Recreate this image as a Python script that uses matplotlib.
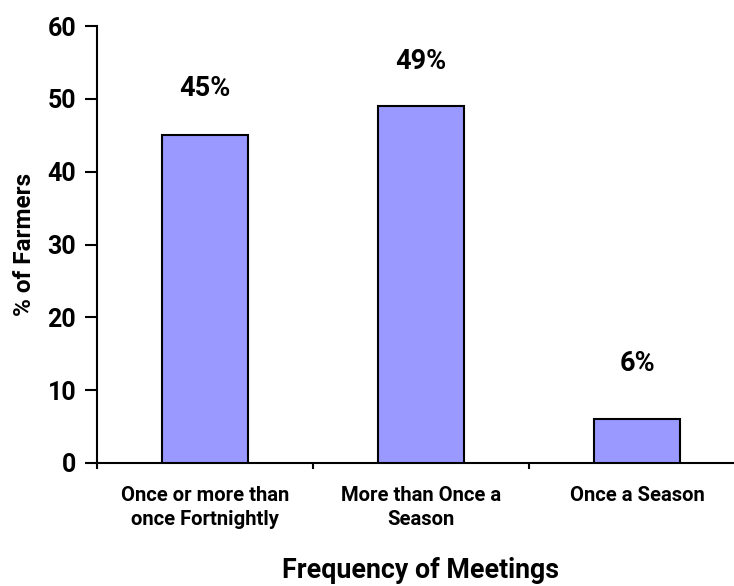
import numpy as np
import matplotlib
matplotlib.use("Agg")
import matplotlib.pyplot as plt

categories = ["Once or more than\nonce Fortnightly", "More than Once a\nSeason", "Once a Season"]
values = [45, 49, 6]
labels = ["45%", "49%", "6%"]
yticks = [0, 10, 20, 30, 40, 50, 60]

plt.rcParams['font.family'] = ['Roboto', 'DejaVu Sans']
plt.rcParams['font.weight'] = 'bold'

fig = plt.figure(figsize=(7.34, 5.86), dpi=100)
# axes runs a bit past the right edge, like the original
ax = fig.add_axes([97/734, 1 - 463/586, 648/734, 437/586])

x = np.arange(len(values))
ax.bar(x, values, width=0.4, color='#9999ff', edgecolor='black', linewidth=1.5, zorder=3)

# value labels sit well above the bars
offsets = [47, 45, 56]
for xi, v, lab, off in zip(x, values, labels, offsets):
    ax.annotate(lab, (xi, v), xytext=(0, off * 72 / 100), textcoords='offset points',
                ha='center', va='center', fontsize=19.5, fontweight='bold')

ax.set_xlim(-0.5, 2.5)
ax.set_ylim(0, 60)
ax.set_yticks(yticks)
ax.set_yticklabels([str(t) for t in yticks], fontsize=18, fontweight='bold')

ax.set_xticks([-0.5, 0.5, 1.5, 2.5])
ax.set_xticklabels([])
ax.tick_params(axis='x', direction='out', length=4, width=1.5)
ax.tick_params(axis='y', direction='out', length=9, width=1.5, pad=6)
for xi, c in zip(x, categories):
    ax.text(xi, -3.2, c, ha='center', va='top', fontsize=14.6, fontweight='bold',
            linespacing=1.3)

for s in ['top', 'right']:
    ax.spines[s].set_visible(False)
for s in ['left', 'bottom']:
    ax.spines[s].set_linewidth(1.5)

ax.set_ylabel('% of Farmers', fontsize=17.5, fontweight='bold', labelpad=8)
ax.text(1.0, -14.7, 'Frequency of Meetings', ha='center', va='center',
        fontsize=19.3, fontweight='bold')

fig.savefig('out.png', dpi=100)
